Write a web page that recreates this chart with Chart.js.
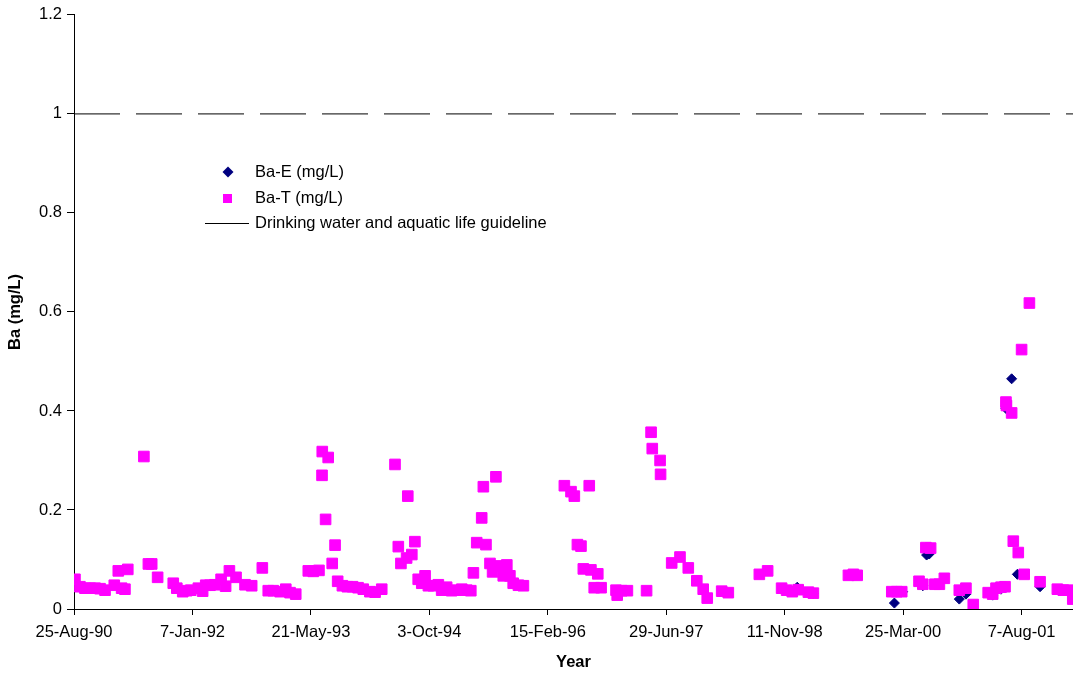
<!DOCTYPE html>
<html>
<head>
<meta charset="utf-8">
<script src="https://cdn.jsdelivr.net/npm/chart.js@4.4.0/dist/chart.umd.min.js"></script>
<style>
  html, body { margin: 0; padding: 0; background: #fff; }
  #wrap { width: 1073px; height: 675px; }
</style>
</head>
<body>
<div id="wrap"><canvas id="baChart" width="1073" height="675"></canvas></div>
<script>
// sample dates are stored as days after 25-Aug-1990
const startDate = Date.UTC(1990, 7, 25);
const xTickDays = [0, 500, 1000, 1500, 2000, 2500, 3000, 3500, 4000];
const xMaxDay = 4217;
const yTicks = [0, 0.2, 0.4, 0.6, 0.8, 1, 1.2];
const guidelineValue = 1.0;

const baTDays = [4, 25, 46, 68, 89, 110, 131, 170, 187, 201, 215, 227, 295, 314, 328, 353,
  419, 434, 459, 476, 493, 525, 543, 556, 574, 595, 621, 640, 656, 684, 722, 750,
  795, 820, 841, 870, 894, 912, 936, 989, 1010, 1034, 1048, 1047, 1062, 1073, 1090, 1102,
  1113, 1133, 1154, 1176, 1199, 1221, 1249, 1271, 1299, 1355, 1369, 1380, 1404, 1409, 1426, 1439,
  1453, 1468, 1482, 1496, 1517, 1538, 1552, 1573, 1594, 1615, 1637, 1658, 1675, 1686, 1700, 1721,
  1728, 1739, 1756, 1767, 1781, 1791, 1812, 1827, 1840, 1854, 1876, 1897, 2070, 2098, 2112, 2125,
  2140, 2150, 2175, 2182, 2196, 2211, 2225, 2288, 2293, 2312, 2336, 2417, 2436, 2441, 2474, 2476,
  2523, 2558, 2593, 2629, 2656, 2673, 2734, 2762, 2893, 2928, 2987, 3008, 3032, 3057, 3100, 3121,
  3269, 3290, 3306, 3452, 3473, 3494, 3567, 3583, 3596, 3616, 3634, 3653, 3674, 3737, 3765, 3796,
  3859, 3878, 3892, 3913, 3930, 3934, 3936, 3958, 3965, 3986, 4000, 4011, 4033, 4078, 4151, 4176,
  4197, 4216];
const baTValues = [0.060, 0.045, 0.042, 0.042, 0.042, 0.041, 0.038, 0.048, 0.077, 0.042, 0.040, 0.080, 0.308, 0.091, 0.091, 0.064,
  0.052, 0.042, 0.035, 0.037, 0.038, 0.042, 0.036, 0.048, 0.048, 0.049, 0.060, 0.046, 0.077, 0.064, 0.049, 0.047,
  0.083, 0.037, 0.037, 0.035, 0.040, 0.033, 0.030, 0.077, 0.076, 0.078, 0.318, 0.270, 0.181, 0.306, 0.092, 0.129,
  0.056, 0.047, 0.045, 0.045, 0.043, 0.040, 0.035, 0.034, 0.040, 0.292, 0.126, 0.092, 0.103, 0.228, 0.110, 0.136,
  0.060, 0.052, 0.067, 0.047, 0.047, 0.049, 0.038, 0.044, 0.037, 0.038, 0.040, 0.038, 0.037, 0.073, 0.134, 0.184,
  0.247, 0.130, 0.092, 0.075, 0.267, 0.087, 0.067, 0.089, 0.067, 0.052, 0.048, 0.047, 0.249, 0.237, 0.228, 0.130,
  0.127, 0.081, 0.249, 0.079, 0.043, 0.071, 0.043, 0.038, 0.028, 0.037, 0.037, 0.037, 0.357, 0.324, 0.300, 0.272,
  0.093, 0.105, 0.083, 0.057, 0.040, 0.022, 0.036, 0.033, 0.070, 0.077, 0.042, 0.038, 0.035, 0.039, 0.034, 0.032,
  0.068, 0.070, 0.068, 0.035, 0.035, 0.035, 0.056, 0.050, 0.124, 0.123, 0.050, 0.050, 0.062, 0.038, 0.042, 0.009,
  0.033, 0.030, 0.042, 0.044, 0.045, 0.418, 0.411, 0.396, 0.137, 0.114, 0.524, 0.070, 0.618, 0.055, 0.040, 0.038,
  0.038, 0.020];

const baEDays = [3053, 3120, 3288, 3463, 3498, 3583, 3599, 3610, 3642, 3737, 3765, 3878, 3913, 3934, 3958, 3982,
  4078, 4162, 4196];
const baEValues = [0.044, 0.031, 0.068, 0.012, 0.035, 0.047, 0.109, 0.111, 0.050, 0.020, 0.030, 0.028, 0.040, 0.405, 0.465, 0.070,
  0.045, 0.040, 0.036];

const monthNames = ["Jan", "Feb", "Mar", "Apr", "May", "Jun", "Jul", "Aug", "Sep", "Oct", "Nov", "Dec"];
function dayLabel(day) {
  const d = new Date(startDate + day * 86400000);
  return d.getUTCDate() + "-" + monthNames[d.getUTCMonth()] + "-" + String(d.getUTCFullYear()).slice(2);
}

const textFont = { family: "'Liberation Sans', Arial, sans-serif", size: 16.5 };
const titleFont = { family: "'Liberation Sans', Arial, sans-serif", size: 16.5, weight: "bold" };

// legend sits inside the plot area, like the original
const innerLegend = {
  id: "innerLegend",
  afterDraw(chart) {
    const c = chart.ctx;
    c.save();
    c.font = "16.5px 'Liberation Sans', Arial, sans-serif";
    c.fillStyle = "#000";
    c.textBaseline = "middle";
    c.fillText("Ba-E (mg/L)", 255, 172);
    c.fillText("Ba-T (mg/L)", 255, 198);
    c.fillText("Drinking water and aquatic life guideline", 255, 223);
    c.fillStyle = "#000080";
    c.beginPath();
    c.moveTo(228, 166.5); c.lineTo(233.5, 172); c.lineTo(228, 177.5); c.lineTo(222.5, 172);
    c.closePath();
    c.fill();
    c.fillStyle = "#FF00FF";
    c.fillRect(223, 194, 9, 9);
    c.strokeStyle = "#000";
    c.lineWidth = 1;
    c.beginPath();
    c.moveTo(205, 223.5); c.lineTo(249, 223.5);
    c.stroke();
    c.restore();
  }
};

Chart.defaults.color = "#000";

new Chart(document.getElementById("baChart"), {
  type: "scatter",
  data: {
    datasets: [
      {
        label: "Drinking water and aquatic life guideline",
        type: "line",
        data: [{ x: 0, y: guidelineValue }, { x: xMaxDay, y: guidelineValue }],
        borderColor: "#000",
        borderWidth: 1,
        borderDash: [46, 16],
        pointRadius: 0,
        fill: false,
        order: 0
      },
      {
        label: "Ba-T (mg/L)",
        data: baTDays.map((d, i) => ({ x: d, y: baTValues[i] })),
        pointStyle: "rect",
        pointRadius: 7.5,
        backgroundColor: "#FF00FF",
        borderColor: "#FF00FF",
        borderWidth: 1,
        order: 1
      },
      {
        label: "Ba-E (mg/L)",
        data: baEDays.map((d, i) => ({ x: d, y: baEValues[i] })),
        pointStyle: "rectRot",
        pointRadius: 5,
        backgroundColor: "#000080",
        borderColor: "#000080",
        borderWidth: 1,
        order: 2
      }
    ]
  },
  options: {
    responsive: false,
    animation: false,
    layout: { autoPadding: false, padding: { top: 14, right: 0, bottom: 0, left: 0 } },
    plugins: {
      legend: { display: false },
      tooltip: { enabled: false }
    },
    scales: {
      x: {
        type: "linear",
        min: 0,
        max: xMaxDay,
        afterBuildTicks: s => { s.ticks = xTickDays.map(v => ({ value: v })); },
        afterFit: s => { s.height = 66; },
        ticks: { font: textFont, color: "#000", padding: 8, maxRotation: 0, callback: v => dayLabel(v) },
        grid: { display: true, drawOnChartArea: false, drawTicks: true, tickLength: 6, color: "#000" },
        border: { display: true, color: "#000", width: 1 },
        title: { display: true, text: "Year", font: titleFont, color: "#000", padding: { top: 0, bottom: 2.4 } }
      },
      y: {
        min: 0,
        max: 1.2,
        afterBuildTicks: s => { s.ticks = yTicks.map(v => ({ value: v })); },
        afterFit: s => { s.width = 74; },
        ticks: { font: textFont, color: "#000", padding: 5, callback: v => String(Math.round(v * 10) / 10) },
        grid: { display: true, drawOnChartArea: false, drawTicks: true, tickLength: 7, color: "#000" },
        border: { display: true, color: "#000", width: 1 },
        title: { display: true, text: "Ba (mg/L)", font: titleFont, color: "#000", padding: { top: 5.4, bottom: 0 } }
      }
    }
  },
  plugins: [innerLegend]
});
</script>
</body>
</html>
